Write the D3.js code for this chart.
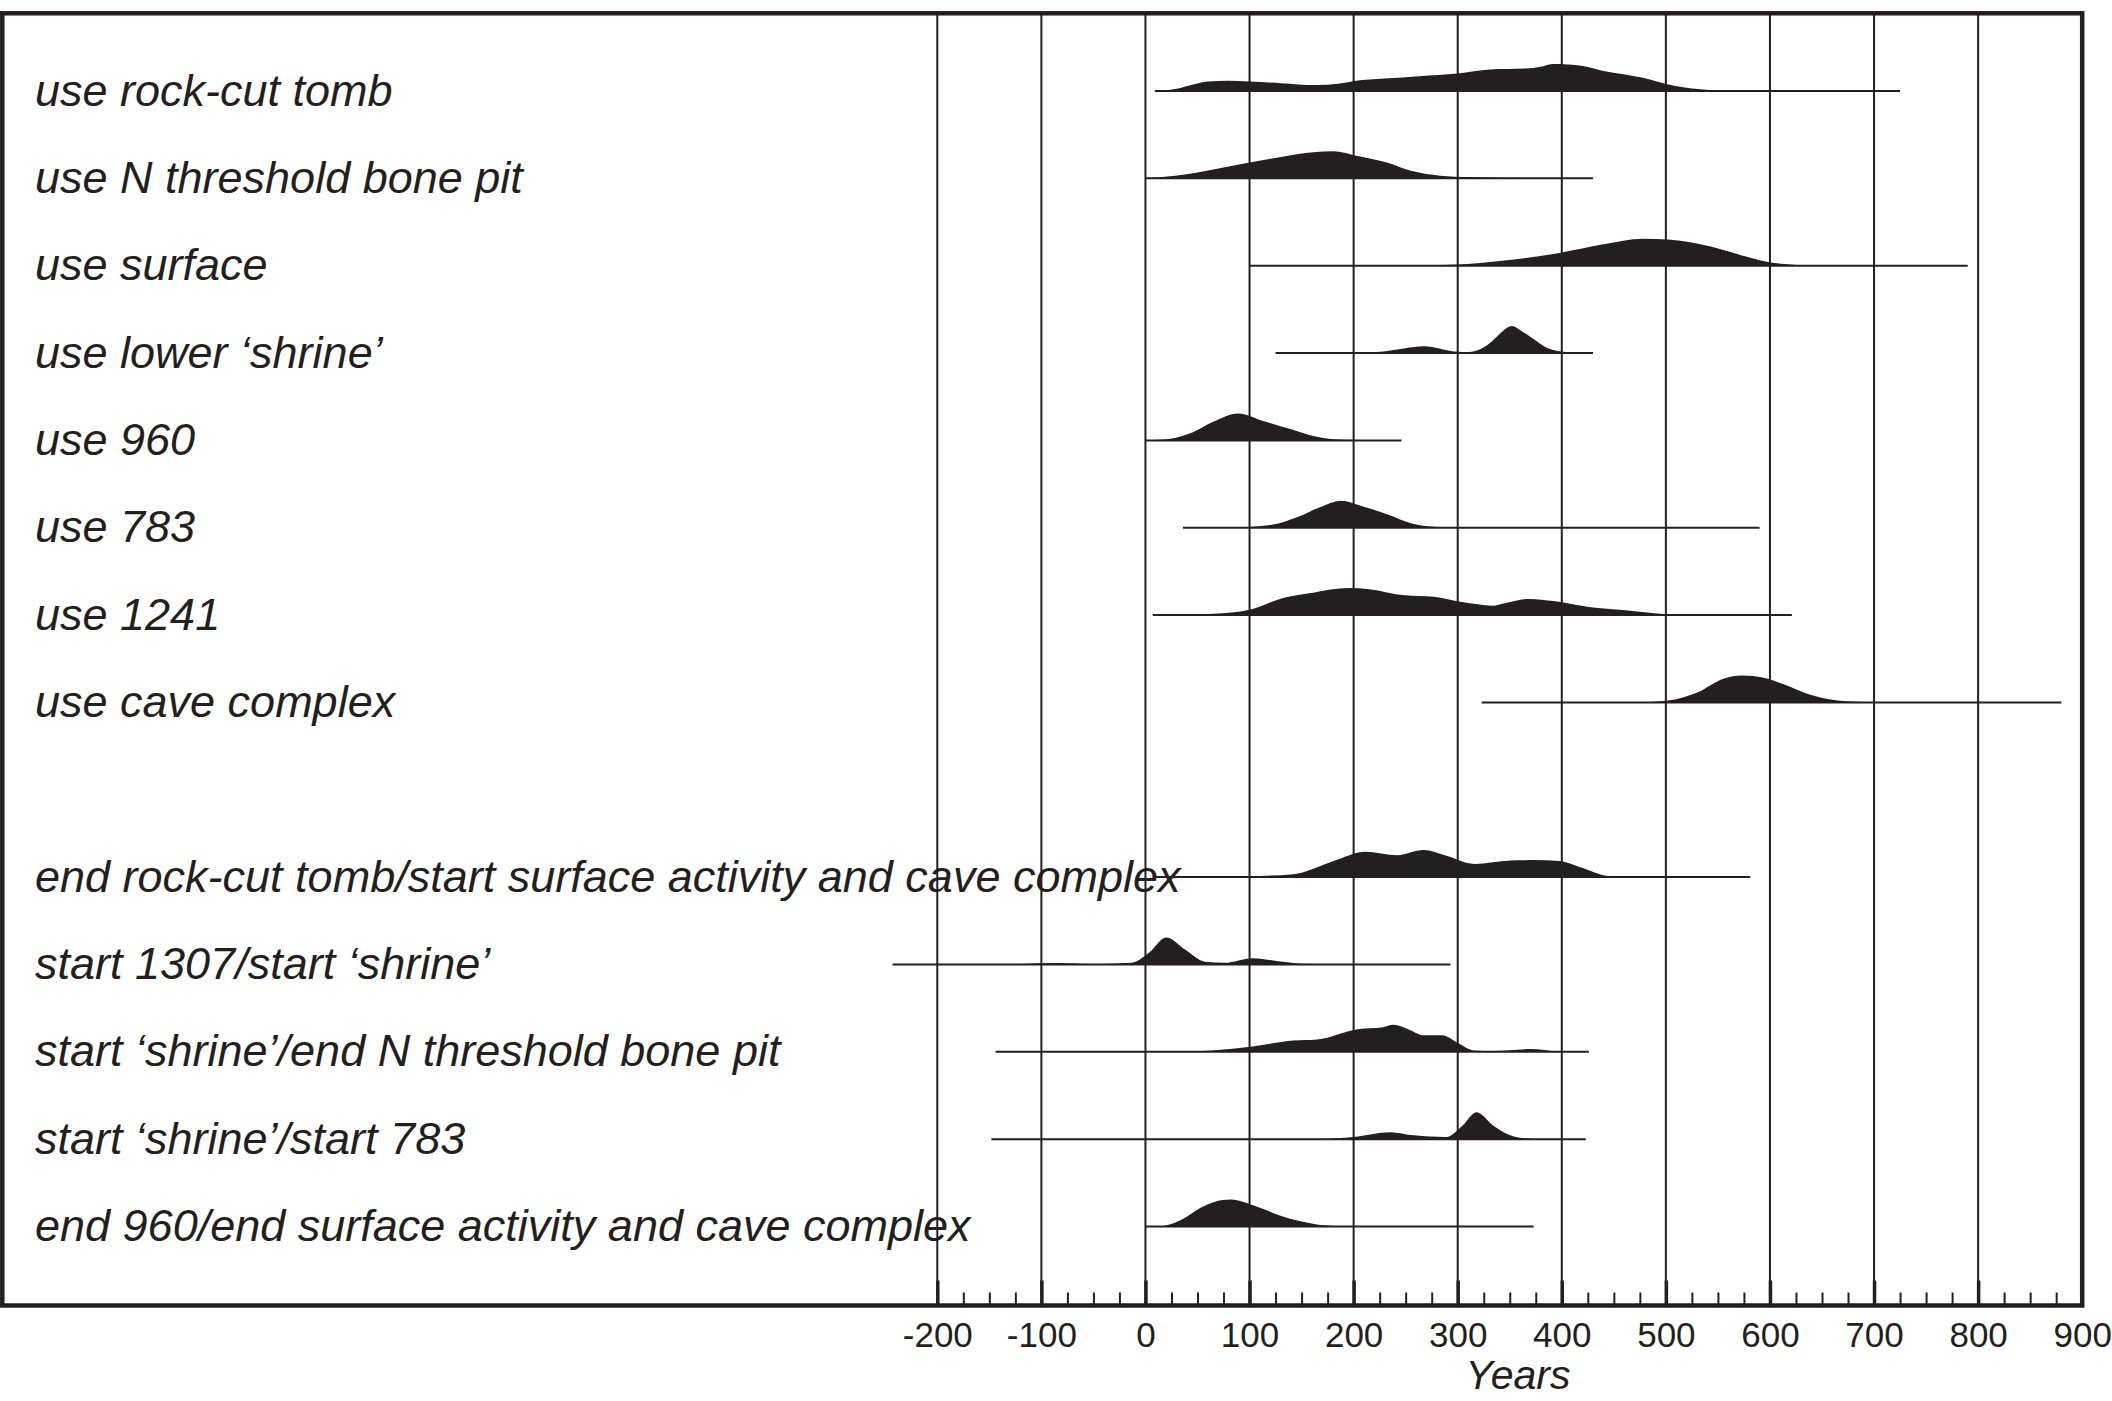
<!DOCTYPE html>
<html>
<head>
<meta charset="utf-8">
<title>Modelled date distributions</title>
<script src="https://cdn.jsdelivr.net/npm/d3@7"></script>
<style>
  html, body { margin: 0; padding: 0; background: #fff; }
  svg { display: block; }
  text { fill: #231f20; }
</style>
</head>
<body>
<div id="chart"></div>
<script>
// row labels, top to bottom (slot 8 is left empty in the figure)
const labels = [
  "use rock-cut tomb",
  "use N threshold bone pit",
  "use surface",
  "use lower \u2018shrine\u2019",
  "use 960",
  "use 783",
  "use 1241",
  "use cave complex",
  "end rock-cut tomb/start surface activity and cave complex",
  "start 1307/start \u2018shrine\u2019",
  "start \u2018shrine\u2019/end N threshold bone pit",
  "start \u2018shrine\u2019/start 783",
  "end 960/end surface activity and cave complex"
];
const slots = [0, 1, 2, 3, 4, 5, 6, 7, 9, 10, 11, 12, 13];

// horizontal range line for each row (years)
const rangeStart = [9, 0, 100, 125, 0, 36, 7, 323, 10, -243, -144, -148, 0];
const rangeEnd = [725, 430, 790, 430, 246, 590, 621, 880, 581, 293, 426, 423, 373];

// probability distributions, [year, relative probability]
const pRockCutTomb = [[15,0],[30,0.08],[45,0.23],[60,0.35],[79,0.38],[100,0.35],[130,0.29],[164,0.22],[185,0.27],[201,0.37],[230,0.46],[263,0.55],[300,0.65],[331,0.8],[365,0.83],[380,0.9],[392,1],[420,0.93],[440,0.74],[478,0.49],[508,0.19],[542,0.04],[597,0]];
const pBonePit = [[0,0],[38,0.14],[65,0.33],[100,0.59],[133,0.81],[161,0.97],[181,1],[201,0.85],[232,0.59],[256,0.27],[283,0.1],[311,0.05],[379,0.01],[430,0]];
const pSurface = [[250,0],[300,0.04],[338,0.16],[399,0.48],[440,0.79],[478,1],[502,0.97],[542,0.72],[576,0.35],[604,0.1],[645,0.01],[700,0]];
const pLowerShrine = [[201,0],[229,0.06],[268,0.25],[297,0.06],[311,0.04],[331,0.37],[340,0.7],[352,1],[362,0.8],[369,0.62],[386,0.19],[406,0.03],[425,0]];
const p960 = [[0,0],[24,0.06],[45,0.29],[65,0.69],[89,1],[113,0.72],[140,0.41],[161,0.16],[181,0.04],[201,0.01],[230,0]];
const p783 = [[85,0],[120,0.1],[147,0.41],[167,0.75],[188,1],[208,0.8],[232,0.5],[256,0.16],[277,0.04],[304,0.01],[338,0]];
const p1241 = [[38,0],[65,0.05],[100,0.2],[133,0.64],[161,0.83],[195,1],[215,0.96],[249,0.73],[277,0.68],[304,0.48],[334,0.35],[344,0.43],[369,0.6],[392,0.52],[426,0.3],[461,0.18],[498,0.04],[522,0.01],[550,0]];
const pCaveComplex = [[474,0],[502,0.07],[529,0.35],[556,0.89],[573,1],[594,0.91],[614,0.66],[638,0.29],[665,0.07],[699,0.01],[740,0]];
const pEndTomb = [[80,0],[99,0.03],[142,0.11],[181,0.6],[211,0.94],[242,0.81],[267,1],[289,0.79],[316,0.49],[351,0.62],[374,0.63],[397,0.6],[420,0.34],[443,0.05],[465,0]];
const pStart1307 = [[-129,0],[-82,0.05],[-51,0.01],[-13,0.06],[3,0.42],[20,1],[38,0.55],[57,0.1],[76,0.06],[103,0.23],[126,0.13],[150,0.03],[180,0]];
const pShrineBonePit = [[26,0],[64,0.05],[103,0.2],[142,0.42],[165,0.46],[204,0.84],[227,0.9],[238,1],[254,0.81],[267,0.61],[285,0.61],[300,0.33],[316,0.05],[335,0.03],[370,0.1],[397,0.01],[410,0]];
const pShrine783 = [[166,0],[200,0.08],[235,0.26],[258,0.14],[289,0.08],[304,0.48],[318,1],[335,0.48],[354,0.1],[374,0]];
const pEnd960 = [[0,0],[14,0.01],[27,0.12],[40,0.37],[53,0.69],[66,0.91],[82,1],[94,0.91],[110,0.69],[129,0.41],[149,0.19],[168,0.06],[194,0.01],[210,0]];
const distributions = [pRockCutTomb, pBonePit, pSurface, pLowerShrine, p960, p783, p1241, pCaveComplex, pEndTomb, pStart1307, pShrineBonePit, pShrine783, pEnd960];

// axis
const majorTicks = [-200, -100, 0, 100, 200, 300, 400, 500, 600, 700, 800, 900];
const minorTicks = [-175, -150, -125, -75, -50, -25, 25, 50, 75, 125, 150, 175, 225, 250, 275, 325, 350, 375, 425, 450, 475, 525, 550, 575, 625, 650, 675, 725, 750, 775, 825, 850, 875];

const width = 2112, height = 1401;
const ink = "#231f20";
const frameTop = 13.3, frameBottom = 1305.5, frameLeft = 2.3;
const peakHeight = 27;

const x = d3.scaleLinear().domain([-200, 900]).range([937.3, 2082.2]);
const y = d3.scaleLinear().domain([0, 13]).range([91, 1226.5]);

const svg = d3.select("#chart").append("svg")
    .attr("width", width)
    .attr("height", height)
    .attr("viewBox", [0, 0, width, height])
    .attr("font-family", "'Liberation Sans', Arial, Helvetica, sans-serif");

svg.append("rect").attr("width", width).attr("height", height).attr("fill", "#fff");

// vertical grid lines
svg.append("g")
    .selectAll("line")
    .data(majorTicks.filter(d => d < 900))
    .join("line")
    .attr("x1", d => x(d)).attr("x2", d => x(d))
    .attr("y1", frameTop).attr("y2", frameBottom)
    .attr("stroke", ink)
    .attr("stroke-width", 2);

// rows
const rows = svg.append("g")
    .selectAll("g")
    .data(labels.map((label, i) => ({label, slot: slots[i], start: rangeStart[i], end: rangeEnd[i], dist: distributions[i]})))
    .join("g");

rows.append("path")
    .attr("fill", ink)
    .attr("d", d => {
        const max = d3.max(d.dist, p => p[1]);
        const h = d3.scaleLinear().domain([0, max]).range([0, peakHeight]);
        return d3.area()
            .x(p => x(p[0]))
            .y0(y(d.slot))
            .y1(p => y(d.slot) - h(p[1]))
            .curve(d3.curveMonotoneX)(d.dist);
    });

rows.append("line")
    .attr("x1", d => x(d.start)).attr("x2", d => x(d.end))
    .attr("y1", d => y(d.slot)).attr("y2", d => y(d.slot))
    .attr("stroke", ink)
    .attr("stroke-width", 2);

rows.append("text")
    .attr("x", 35)
    .attr("y", d => y(d.slot) + 14.5)
    .attr("font-size", 45)
    .attr("font-style", "italic")
    .text(d => d.label);

// frame
svg.append("rect")
    .attr("x", frameLeft).attr("y", frameTop)
    .attr("width", x(900) - frameLeft)
    .attr("height", frameBottom - frameTop)
    .attr("fill", "none")
    .attr("stroke", ink)
    .attr("stroke-width", 4.5);

// minor ticks (pointing up into the plot)
svg.append("g")
    .attr("transform", `translate(0,${frameBottom})`)
    .call(d3.axisTop(x).tickValues(minorTicks).tickSize(13).tickFormat(""))
    .call(g => g.select(".domain").remove())
    .call(g => g.selectAll("line").attr("stroke", ink).attr("stroke-width", 2));

// major ticks
svg.append("g")
    .attr("transform", `translate(0,${frameBottom})`)
    .call(d3.axisTop(x).tickValues(majorTicks.filter(d => d < 900)).tickSize(25).tickFormat(""))
    .call(g => g.select(".domain").remove())
    .call(g => g.selectAll("line").attr("stroke", ink).attr("stroke-width", 3.5));

// tick labels
svg.append("g")
    .attr("transform", `translate(0,${frameBottom})`)
    .call(d3.axisBottom(x).tickValues(majorTicks).tickSize(0).tickPadding(0).tickFormat(d3.format("d")))
    .call(g => g.select(".domain").remove())
    .call(g => g.selectAll("text")
        .attr("dy", null)
        .attr("y", 41)
        .attr("font-size", 35)
        .attr("font-family", "'Liberation Sans', Arial, sans-serif")
        .attr("fill", ink)
        .text(d => d < 0 ? "-" + Math.abs(d) : d));

svg.append("text")
    .attr("x", 1518)
    .attr("y", 1389)
    .attr("text-anchor", "middle")
    .attr("font-size", 41)
    .attr("font-style", "italic")
    .text("Years");
</script>
</body>
</html>
